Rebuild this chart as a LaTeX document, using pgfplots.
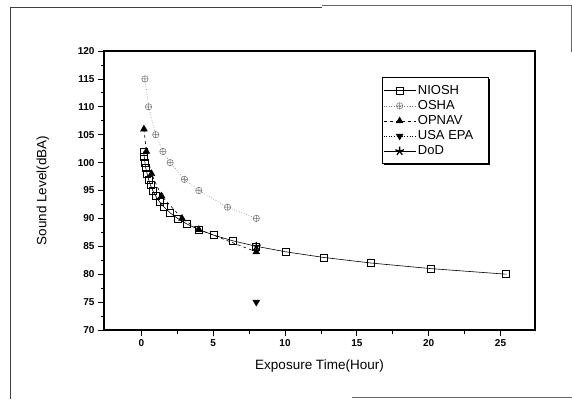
\documentclass[border=0pt]{standalone}
\usepackage{fontspec}
\setmainfont{Liberation Sans}
\usepackage{pgfplots}
\pgfplotsset{compat=1.18}
\pgfplotstableread{
t L
25.4 80
20.16 81
16 82
12.7 83
10.08 84
8 85
6.35 86
5.04 87
4 88
3.17 89
2.52 90
2 91
1.59 92
1.26 93
1 94
0.79 95
0.63 96
0.5 97
0.4 98
0.31 99
0.25 100
0.2 101
0.16 102
}\niosh
\pgfplotstableread{
t L
0.25 115
0.5 110
1 105
1.5 102
2 100
3 97
4 95
6 92
8 90
}\osha
\pgfplotstableread{
t L
0.18 106
0.35 102
0.71 98
1.41 94
2.83 90
4 88
8 84
}\opnav
\newcommand{\tickfont}{\fontsize{10}{12}\selectfont\bfseries}
\newcommand{\labfont}{\fontsize{13.5}{15}\selectfont}
\begin{document}
\begin{tikzpicture}
\useasboundingbox (0pt,0pt) rectangle (572pt,-399pt);
\draw[black!75, line width=0.8pt] (10pt,-399pt) -- (10pt,-7pt) -- (322pt,-7pt);
\draw[black!60, line width=0.8pt] (322pt,-5.5pt) -- (571pt,-5.5pt) -- (571pt,-52pt);
\draw[black!60, line width=0.8pt] (352pt,-397.5pt) -- (572pt,-397.5pt);
\begin{axis}[
  at={(104pt,-330pt)}, anchor=south west,
  width=431pt, height=279pt, scale only axis,
  xmin=-2.6, xmax=27.4, ymin=70, ymax=120,
  xtick={0,5,10,15,20,25}, ytick={70,75,...,120},
  minor x tick num=1, minor y tick num=1,
  tick pos=left, tick align=outside,
  major tick length=6pt, minor tick length=3.5pt,
  every tick/.style={black, line width=0.8pt},
  axis line style={line width=1.1pt},
  /pgf/number format/assume math mode=true,
  xticklabel={\tickfont\pgfmathprintnumber{\tick}},
  yticklabel={\tickfont\pgfmathprintnumber{\tick}},
  xlabel={\labfont Exposure Time(Hour)},
  ylabel={\labfont Sound Level(dBA)},
  every axis x label/.style={at={(axis description cs:0.5,0)}, yshift=-36pt, anchor=center},
  every axis y label/.style={at={(axis description cs:0,0.5)}, xshift=-61pt, rotate=90, anchor=center},
  legend style={at={(0.643,0.8925)}, anchor=north west, draw=none, fill=none,
    row sep=0pt, inner xsep=2pt, inner ysep=2pt,
    font=\fontsize{13}{14}\selectfont,
    nodes={align=left, text height=10pt, text depth=3.3pt, inner ysep=0.9pt, inner xsep=2pt}},
  legend cell align=left,
  legend image code/.code={\draw[mark repeat=2,mark phase=2,#1] plot coordinates {(0pt,0pt)(16pt,0pt)(32pt,0pt)};},
]
\addplot[black, line width=0.6pt, mark=square, mark size=3.5pt, mark options={solid, fill=white, line width=0.6pt}] table[x=t,y=L] {\niosh};
\addlegendentry{NIOSH}
\addplot[black!55, line width=0.6pt, dotted, mark=oplus, mark size=3.2pt, mark options={solid, fill=white, line width=0.5pt}] table[x=t,y=L] {\osha};
\addlegendentry{OSHA}
\addplot[black, line width=0.6pt, dashed, mark=triangle*, mark size=3.8pt, mark options={solid}] table[x=t,y=L] {\opnav};
\addlegendentry{OPNAV}
\addplot[black, line width=0.6pt, dotted, mark=triangle*, mark size=3.8pt, mark options={solid, rotate=180}] coordinates {(8,75)};
\addlegendentry{USA EPA}
\addplot[black, line width=0.6pt, mark=star, mark size=4.5pt, mark options={solid, line width=1.3pt}] coordinates {(8,85)};
\addlegendentry{DoD}
\end{axis}
\draw[black, line width=0.8pt] (382pt,-77pt) rectangle (488pt,-163pt);
\draw[black, line width=1.8pt] (489.2pt,-79pt) -- (489.2pt,-164.2pt) -- (384pt,-164.2pt);
\end{tikzpicture}
\end{document}
